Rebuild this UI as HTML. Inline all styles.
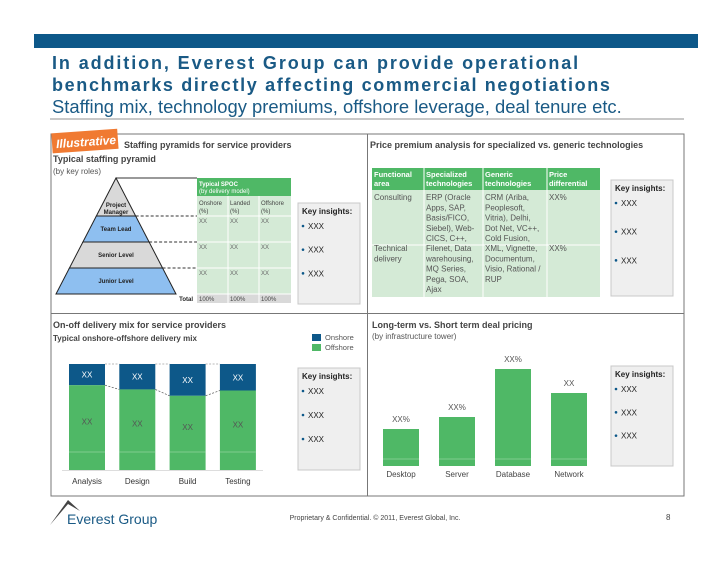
<!DOCTYPE html>
<html><head><meta charset="utf-8"><style>
body{margin:0;background:#fff;width:728px;height:563px;overflow:hidden;font-family:"Liberation Sans",sans-serif}
svg text{font-family:"Liberation Sans",sans-serif}
</style></head><body>
<svg id="s" width="728" height="563" viewBox="0 0 728 563" xmlns="http://www.w3.org/2000/svg">
<rect x="34" y="34" width="664" height="14" fill="#0d5889"/>
<text x="52" y="69" font-size="18" font-weight="bold" fill="#1a5a85" letter-spacing="1.9">In addition, Everest Group can provide operational</text>
<text x="52" y="91" font-size="18" font-weight="bold" fill="#1a5a85" letter-spacing="1.65">benchmarks directly affecting commercial negotiations</text>
<text x="52" y="113" font-size="18.4" fill="#1a5a85">Staffing mix, technology premiums, offshore leverage, deal tenure etc.</text>
<rect x="50" y="118" width="634" height="2" fill="#c8c8c8"/>
<rect x="51" y="134" width="633" height="362" fill="none" stroke="#777" stroke-width="1"/>
<line x1="367.5" y1="134" x2="367.5" y2="496" stroke="#777"/>
<line x1="51" y1="313.5" x2="684" y2="313.5" stroke="#777"/>
<g transform="rotate(-4 86 142)">
<rect x="52" y="131" width="66" height="20" fill="#f07a32"/>
<text x="56" y="146" font-size="12" font-style="italic" font-weight="bold" fill="#fff">Illustrative</text></g>
<text x="124" y="148" font-size="9" font-weight="bold" fill="#444">Staffing pyramids for service providers</text>
<text x="53" y="162" font-size="9" font-weight="bold" fill="#444">Typical staffing pyramid</text>
<text x="53" y="174" font-size="8" fill="#555">(by key roles)</text>
<g id="pyr"></g>
<g id="spoc"></g>
<text x="370" y="148" font-size="9" font-weight="bold" fill="#444">Price premium analysis for specialized vs. generic technologies</text>
<g id="ptab"></g>
<text x="53" y="328" font-size="9" font-weight="bold" fill="#444">On-off delivery mix for service providers</text>
<text x="53" y="341" font-size="8" font-weight="bold" fill="#444">Typical onshore-offshore delivery mix</text>
<rect x="312" y="334" width="9" height="7" fill="#0d5889"/>
<text x="325" y="340" font-size="7.5" fill="#555">Onshore</text>
<rect x="312" y="344" width="9" height="7" fill="#4fb866"/>
<text x="325" y="350" font-size="7.5" fill="#555">Offshore</text>
<g id="mix"></g>
<text x="372" y="328" font-size="9" font-weight="bold" fill="#444">Long-term vs. Short term deal pricing</text>
<text x="372" y="339" font-size="8" fill="#555">(by infrastructure tower)</text>
<g id="tow"></g>
<g id="ki"></g>
<g>
<path d="M50 525 L68 500 L80 511 L68 504 Z" fill="#444"/>
<text x="67" y="524" font-size="14" fill="#1a5a85" font-family="'DejaVu Sans Condensed',sans-serif">Everest Group</text></g>
<text x="375" y="520" font-size="7" fill="#444" text-anchor="middle">Proprietary &amp; Confidential. © 2011, Everest Global, Inc.</text>
<text x="666" y="520" font-size="8" fill="#444">8</text>
</svg>
<script>
const NS="http://www.w3.org/2000/svg";
function mk(p,t,a,txt){const e=document.createElementNS(NS,t);for(const k in a)e.setAttribute(k,a[k]);if(txt!=null)e.textContent=txt;p.appendChild(e);return e;}
const G="#4fb866",LG="#d4ead6",B="#0d5889";
// key insights boxes
const kiBoxes=[[298,203,62,101],[611,180,62,116],[298,368,62,102],[611,366,62,100]];
const ki=document.getElementById('ki');
kiBoxes.forEach((b,i)=>{const g=mk(ki,'g',{});


mk(g,'rect',{x:b[0],y:b[1],width:b[2],height:b[3],fill:'#efefef',stroke:'#c8c8c8'});
mk(g,'text',{x:b[0]+4,y:b[1]+11,'font-size':8,'font-weight':'bold',fill:'#222'},'Key insights:');
for(let j=0;j<3;j++){const y=b[1]+26+j*(b[3]-30)/3;mk(g,'circle',{cx:b[0]+5,cy:y-3,r:1.3,fill:B});mk(g,'text',{x:b[0]+10,y:y,'font-size':8,fill:'#222'},'XXX');}
});
// pyramid
const pyr=document.getElementById('pyr');
const roles=["Project Manager","Team Lead","Senior Level","Junior Level"];
const levels=[178,216,242,268,294];
const fills=["#d9d9d9","#8ebff0","#d9d9d9","#8ebff0"];
const ax=116,hl=60;
function xw(y){return hl*(y-178)/(294-178);}
roles.forEach((r,i)=>{const y0=levels[i],y1=levels[i+1];
const p=mk(pyr,'polygon',{points:`${ax-xw(y0)},${y0} ${ax+xw(y0)},${y0} ${ax+xw(y1)},${y1} ${ax-xw(y1)},${y1}`,fill:fills[i],stroke:'#222','stroke-width':1});


if(i==0){mk(pyr,'text',{x:ax,y:207,'font-size':6,'font-weight':'bold','text-anchor':'middle',fill:'#222'},'Project');mk(pyr,'text',{x:ax,y:214,'font-size':6,'font-weight':'bold','text-anchor':'middle',fill:'#222'},'Manager');}
else mk(pyr,'text',{x:ax,y:(y0+y1)/2+2,'font-size':6,'font-weight':'bold','text-anchor':'middle',fill:'#222'},r);
if(i<3) mk(pyr,'line',{x1:ax+xw(levels[i+1]),y1:levels[i+1],x2:197,y2:levels[i+1],stroke:'#333','stroke-dasharray':'3,2'});
});
mk(pyr,'line',{x1:ax,y1:178,x2:197,y2:178,stroke:'#333'});
// spoc table
const sp=document.getElementById('spoc');
mk(sp,'rect',{x:197,y:178,width:94,height:18,fill:G});
mk(sp,'text',{x:199,y:186,'font-size':6,'font-weight':'bold',fill:'#fff'},'Typical SPOC');
mk(sp,'text',{x:199,y:193,'font-size':6,fill:'#fff'},'(by delivery model)');
mk(sp,'rect',{x:197,y:196,width:94,height:98,fill:LG});
mk(sp,'rect',{x:197,y:294,width:94,height:9,fill:'#d9d9d9'});
const cols=["Onshore","Landed","Offshore"],cx=[197,228,259];
cols.forEach((c,i)=>{mk(sp,'text',{x:cx[i]+2,y:205,'font-size':6,fill:'#444'},c);mk(sp,'text',{x:cx[i]+2,y:213,'font-size':6,fill:'#444'},'(%)');
mk(sp,'text',{x:cx[i]+2,y:301,'font-size':6,fill:'#444'},'100%');
[216,242,268].forEach(y=>mk(sp,'text',{x:cx[i]+2,y:y+7,'font-size':6,fill:'#666'},'XX'));
if(i)mk(sp,'line',{x1:cx[i],y1:196,x2:cx[i],y2:303,stroke:'#fff'});});
[216,242,268,294].forEach(y=>mk(sp,'line',{x1:197,y1:y,x2:291,y2:y,stroke:'#fff'}));
mk(sp,'text',{x:193,y:301,'font-size':6,'font-weight':'bold','text-anchor':'end',fill:'#222'},'Total');
// price table
const pt=document.getElementById('ptab');
const pcx=[372,424,483,547,600];
mk(pt,'rect',{x:372,y:168,width:228,height:22,fill:G});
mk(pt,'rect',{x:372,y:190,width:228,height:107,fill:LG});
const hdr=[["Functional","area"],["Specialized","technologies"],["Generic","technologies"],["Price","differential"]];
hdr.forEach((h,i)=>{mk(pt,'text',{x:pcx[i]+2,y:177,'font-size':7.5,'font-weight':'bold',fill:'#fff'},h[0]);mk(pt,'text',{x:pcx[i]+2,y:186,'font-size':7.5,'font-weight':'bold',fill:'#fff'},h[1]);
if(i)mk(pt,'line',{x1:pcx[i],y1:168,x2:pcx[i],y2:297,stroke:'#fff'});});
mk(pt,'line',{x1:372,y1:245,x2:600,y2:245,stroke:'#fff'});
const cells=[[["Consulting"],["ERP (Oracle","Apps, SAP,","Basis/FICO,","Siebel), Web-","CICS, C++,"],["CRM (Ariba,","Peoplesoft,","Vitria), Delhi,","Dot Net, VC++,","Cold Fusion,"],["XX%"]],
[["Technical","delivery"],["Filenet, Data","warehousing,","MQ Series,","Pega, SOA,","Ajax"],["XML, Vignette,","Documentum,","Visio, Rational /","RUP"],["XX%"]]];
cells.forEach((row,r)=>row.forEach((c,i)=>c.forEach((l,k)=>mk(pt,'text',{x:pcx[i]+2,y:(r?251:200)+k*10.3,'font-size':8,fill:'#555'},l))));
// delivery mix chart
const phases=["Analysis","Design","Build","Testing"];
const onshore=[20,24,30,25];
const mixLabels=["XX","XX","XX","XX"];
const mix=document.getElementById('mix');
const mTop=364,mBot=470,mx0=69,mStep=50.3,mW=36;
const yM=v=>mTop+(mBot-mTop)*v/100;
let prev=null;
phases.forEach((p,i)=>{const x=mx0+i*mStep;const yb=yM(onshore[i]);
const r1=mk(mix,'rect',{x:x,y:mTop,width:mW,height:yb-mTop,fill:B});


const r2=mk(mix,'rect',{x:x,y:yb,width:mW,height:mBot-yb,fill:G});


mk(mix,'line',{x1:x,y1:mTop+(mBot-mTop)*0.83,x2:x+mW,y2:mTop+(mBot-mTop)*0.83,stroke:'#8fd49e','stroke-width':0.7});
mk(mix,'text',{x:x+mW/2,y:(mTop+yb)/2+3,'font-size':8,fill:'#fff','text-anchor':'middle'},mixLabels[i]);
mk(mix,'text',{x:x+mW/2,y:(yb+mBot)/2-3,'font-size':8,fill:'#555','text-anchor':'middle'},'XX');
mk(mix,'text',{x:x+mW/2,y:484,'font-size':8,fill:'#333','text-anchor':'middle'},p);
if(prev){mk(mix,'line',{x1:prev[0],y1:mTop,x2:x,y2:mTop,stroke:'#777','stroke-dasharray':'2,1.5','stroke-width':0.6});mk(mix,'line',{x1:prev[0],y1:prev[1],x2:x,y2:yb,stroke:'#555','stroke-dasharray':'2,1.5','stroke-width':0.7});}
prev=[x+mW,yb];});
mk(mix,'line',{x1:62,y1:470.5,x2:263,y2:470.5,stroke:'#ddd'});
// tower chart
const towers=["Desktop","Server","Database","Network"];
const towerVals=[37,49,97,73];
const towerLabels=["XX%","XX%","XX%","XX"];
const tow=document.getElementById('tow');
const tBase=466,tx0=383,tStep=56,tW=36,tScale=1;
towers.forEach((t,i)=>{const x=tx0+i*tStep;const h=towerVals[i]*tScale;
const r=mk(tow,'rect',{x:x,y:tBase-h,width:tW,height:h,fill:G});


mk(tow,'line',{x1:x,y1:tBase-7,x2:x+tW,y2:tBase-7,stroke:'#8fd49e','stroke-width':0.7});
mk(tow,'text',{x:x+tW/2,y:tBase-h-7,'font-size':8,fill:'#555','text-anchor':'middle'},towerLabels[i]);
mk(tow,'text',{x:x+tW/2,y:477,'font-size':8,fill:'#444','text-anchor':'middle'},t);});
</script>
</body></html>
